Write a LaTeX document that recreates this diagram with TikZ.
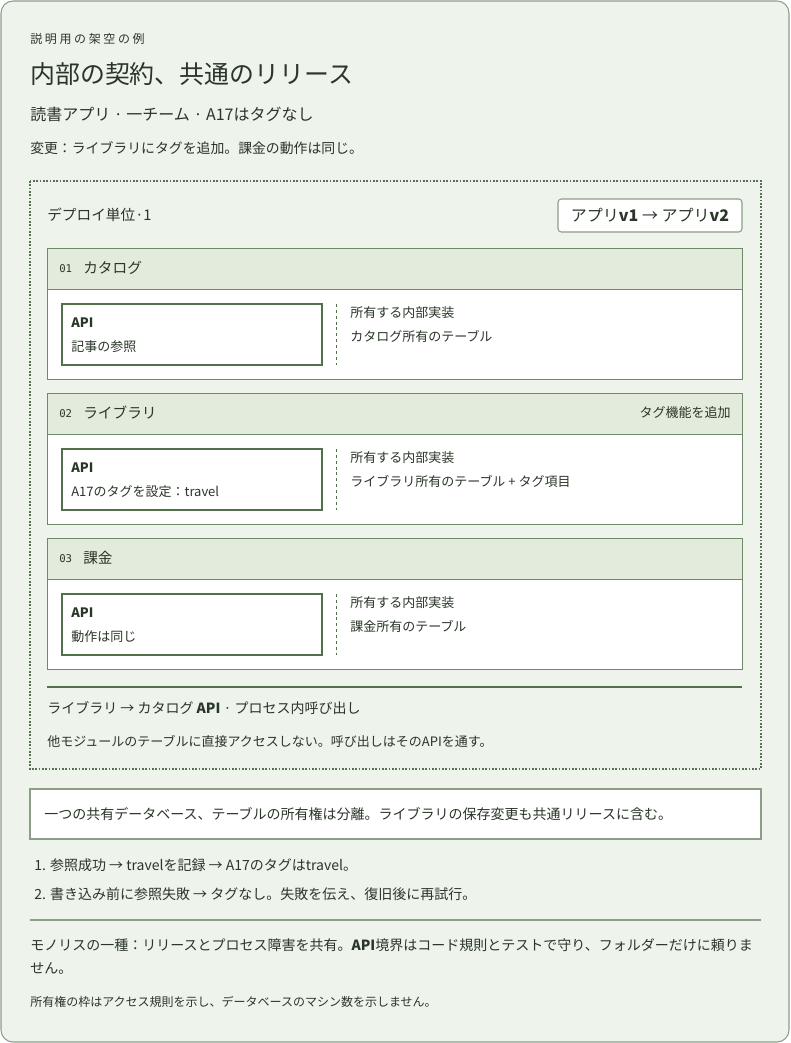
\documentclass[tikz,border=0pt]{standalone}
\usepackage{fontspec}
\setmainfont{Noto Sans CJK JP}
\setmonofont{DejaVu Sans Mono}
\definecolor{paper}{HTML}{EEF3EC}
\definecolor{frame}{HTML}{8C9E88}
\definecolor{ink}{HTML}{2A3628}
\definecolor{headfill}{HTML}{E2EBDC}
\definecolor{modline}{HTML}{6F8A6A}
\definecolor{apiline}{HTML}{52704C}
\definecolor{dotline}{HTML}{56714F}

\begin{document}
\begin{tikzpicture}[x=0.75pt, y=-0.75pt]
		\tikzset{txt/.style={anchor=west, inner sep=0, text=ink, font=\fontsize{9.75pt}{12pt}\selectfont},
			big/.style={txt, font=\fontsize{18.7pt}{22pt}\selectfont},
			sub/.style={txt, font=\fontsize{12pt}{14pt}\selectfont},
			mid/.style={txt, font=\fontsize{10.5pt}{13pt}\selectfont},
			tiny/.style={txt, font=\fontsize{9pt}{11pt}\selectfont\addfontfeatures{LetterSpace=22}},
			num/.style={txt, font=\ttfamily\fontsize{8pt}{10pt}\selectfont},
			head/.style={txt, font=\fontsize{11pt}{13pt}\selectfont},
			modbox/.style={draw=modline, fill=white, line width=0.75pt},
			modhead/.style={draw=modline, fill=headfill, line width=0.75pt},
			apibox/.style={draw=apiline, line width=1.5pt},
			sep/.style={draw=apiline, dash pattern=on 2.2pt off 2.2pt, line width=0.6pt}};

		\useasboundingbox (0,0) rectangle (790,1043);
		\draw[frame, fill=paper, rounded corners=9pt, line width=0.8pt] (1,1) rectangle (789,1042);

		\node[tiny] (kicker) at (30,39) {説明用の架空の例};
		\node[big] (title) at (30,74) {内部の契約、共通のリリース};
		\node[sub] (subt) at (30,114) {読書アプリ · 一チーム · A17はタグなし};
		\node[txt, font=\fontsize{10.4pt}{12pt}\selectfont] (change) at (30,148) {変更：ライブラリにタグを追加。課金の動作は同じ。};

		\draw[dotline, dash pattern=on 1.2pt off 1.3pt, line width=1.2pt] (30,181) rectangle (761,769);
		\node[txt, font=\fontsize{11pt}{13pt}\selectfont] (unit) at (47,215) {デプロイ単位·1};
		\node[draw=frame, fill=white, rounded corners=2.5pt, line width=0.8pt, minimum width=138pt, minimum height=24.75pt, text=ink, font=\fontsize{12pt}{14pt}\selectfont] (ver) at (650,215.5) {アプリ\textbf{v1} → アプリ\textbf{v2}};

		% 01
		\draw[modbox] (47,248) rectangle (742,379);
		\draw[modhead] (47,248) rectangle (742,289);
		\node[num] (n1) at (59,268.5) {01};
		\node[head] (m1) at (83,268) {カタログ};
		\draw[apibox] (62,304) rectangle (322,365);
		\node[txt] (a1) at (71,323) {\textbf{API}};
		\node[txt] (d1) at (71,347) {記事の参照};
		\draw[sep] (336,304) -- (336,365);
		\node[txt] (o1) at (350,313) {所有する内部実装};
		\node[txt] (t1) at (350,336) {カタログ所有のテーブル};

		% 02
		\draw[modbox] (47,393) rectangle (742,524);
		\draw[modhead] (47,393) rectangle (742,434);
		\node[num] (n2) at (59,413.5) {02};
		\node[head] (m2) at (83,413) {ライブラリ};
		\node[txt, anchor=east] (add2) at (731,413) {タグ機能を追加};
		\draw[apibox] (62,449) rectangle (322,510);
		\node[txt] (a2) at (71,468) {\textbf{API}};
		\node[txt] (d2) at (71,492) {A17のタグを設定：travel};
		\draw[sep] (336,449) -- (336,510);
		\node[txt] (o2) at (350,458) {所有する内部実装};
		\node[txt] (t2) at (350,481) {ライブラリ所有のテーブル + タグ項目};

		% 03
		\draw[modbox] (47,538) rectangle (742,669);
		\draw[modhead] (47,538) rectangle (742,579);
		\node[num] (n3) at (59,558.5) {03};
		\node[head] (m3) at (83,558) {課金};
		\draw[apibox] (62,594) rectangle (322,655);
		\node[txt] (a3) at (71,613) {\textbf{API}};
		\node[txt] (d3) at (71,637) {動作は同じ};
		\draw[sep] (336,594) -- (336,655);
		\node[txt] (o3) at (350,603) {所有する内部実装};
		\node[txt] (t3) at (350,626) {課金所有のテーブル};

		\draw[apiline, line width=1.6pt] (47,687) -- (742,687);
		\node[mid] (call) at (47,708) {ライブラリ → カタログ \textbf{API} · プロセス内呼び出し};
		\node[txt] (rule) at (47,741) {他モジュールのテーブルに直接アクセスしない。呼び出しはそのAPIを通す。};

		\draw[frame, fill=white, line width=0.8pt] (30,789) rectangle (761,839);
		\node[mid] (db) at (44,814) {一つの共有データベース、テーブルの所有権は分離。ライブラリの保存変更も共通リリースに含む。};

		\node[mid] (s1) at (34,865) {1. 参照成功 → travelを記録 → A17のタグはtravel。};
		\node[mid] (s2) at (34,894) {2. 書き込み前に参照失敗 → タグなし。失敗を伝え、復旧後に再試行。};

		\draw[frame, line width=0.8pt] (30,920) -- (761,920);
		\node[mid, align=left, font=\fontsize{10.5pt}{17.25pt}\selectfont, anchor=north west] (mono) at (30,938) {モノリスの一種：リリースとプロセス障害を共有。\textbf{API}境界はコード規則とテストで守り、フォルダーだけに頼りま\\せん。};
		\node[txt, font=\fontsize{9pt}{11pt}\selectfont] (note) at (30,1002) {所有権の枠はアクセス規則を示し、データベースのマシン数を示しません。};
	\end{tikzpicture}
\end{document}
